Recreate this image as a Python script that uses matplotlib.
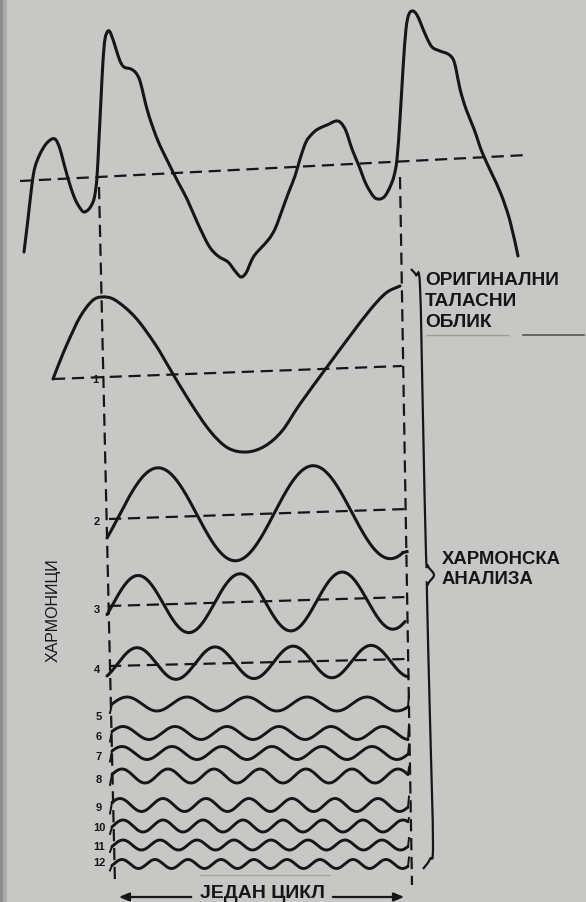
import numpy as np
import matplotlib
matplotlib.use("Agg")
import matplotlib.pyplot as plt
from matplotlib.path import Path
from matplotlib.patches import PathPatch

# original waveform (diagram units: x right, y down)
wave_t = [24, 28, 32, 35, 40, 46, 52, 56, 60, 64, 70, 75, 80, 84, 89, 93, 95, 97, 99, 101,
          103, 105, 108, 111, 116, 120, 124, 131, 136, 140, 144, 149, 158, 168, 178, 187,
          198, 209, 218, 228, 235, 241, 246, 250, 254, 260, 269, 275, 280, 288, 295, 300,
          306, 312, 318, 327, 336, 341, 346, 352, 359, 366, 374, 380, 385, 390, 394, 397,
          400, 403, 406, 409, 413, 417, 421, 426, 432, 440, 448, 453, 456, 460, 466, 474,
          482, 492, 501, 510, 518]
wave_v = [253, 220, 185, 168, 155, 145, 140, 141, 150, 165, 186, 200, 209, 213, 210, 203,
          195, 178, 140, 100, 62, 40, 32, 35, 50, 62, 68, 70, 74, 82, 98, 117, 142, 163,
          183, 200, 225, 247, 257, 263, 272, 278, 274, 265, 257, 250, 240, 230, 217, 195,
          177, 160, 143, 135, 130, 126, 122, 124, 132, 150, 167, 185, 198, 200, 197, 188,
          177, 160, 120, 70, 30, 15, 12, 16, 25, 37, 48, 52, 55, 60, 70, 90, 110, 130,
          153, 175, 195, 222, 257]
mean_x = [20, 527]
mean_y = [182, 156]

# first harmonic (fundamental)
fund_t = [53, 60, 68, 80, 92, 102, 115, 135, 155, 170, 190, 210, 228, 247, 265, 282, 300,
          327, 350, 370, 386, 400]
fund_v = [380, 362, 343, 318, 302, 298, 301, 318, 345, 370, 403, 432, 449, 453, 447, 432,
          405, 368, 337, 311, 294, 287]
fund_base_x = [53, 402]
fund_base_y = [380, 367]

# higher harmonics: amplitude, period and first crest position
harm_label = ['2', '3', '4', '5', '6', '7', '8', '9', '10', '11', '12']
harm_start = [107, 107, 107, 112, 112, 112, 112, 112, 112, 112, 112]
harm_end = [403, 405, 408, 408, 408, 408, 408, 408, 408, 408, 408]
harm_center_l = [516.5, 606, 665, 705, 734, 754, 777, 806, 827, 846, 865]
harm_center_r = [512.5, 601, 662, 705, 734, 754, 777, 806, 827, 846, 865]
harm_amp = [47, 29, 16, 7, 6.5, 6.5, 7, 6.5, 6, 5, 4.5]
harm_period = [155, 102, 78, 60, 52, 50, 46, 43, 40, 37, 33]
harm_crest = [158, 138, 137, 127, 123, 122, 122, 120, 123, 123, 122]
base_l = [520, 607, 667]
base_r = [510, 598, 660]
label_y = [522, 610, 670, 717, 737, 757, 780, 808, 828, 847, 863]

ink = '#161616'
bg = '#c7c7c5'


def smooth(xs, ys):
    pts = np.column_stack([xs, ys]).astype(float)
    verts = [pts[0]]
    codes = [Path.MOVETO]
    n = len(pts)
    for i in range(n - 1):
        p0 = pts[i - 1] if i > 0 else pts[i]
        p1, p2 = pts[i], pts[i + 1]
        p3 = pts[i + 2] if i + 2 < n else pts[i + 1]
        verts += [p1 + (p2 - p0) / 6, p2 - (p3 - p1) / 6, p2]
        codes += [Path.CURVE4] * 3
    return Path(verts, codes)


fig = plt.figure(figsize=(5.86, 9.03), dpi=100, facecolor=bg)
ax = fig.add_axes([0, 0, 1, 1])
ax.set_xlim(0, 586)
ax.set_ylim(903, 0)
ax.axis('off')
ax.set_facecolor(bg)
ax.axvspan(0, 3, color='#8e8e8e', lw=0)
ax.axvspan(3, 7, color='#acacab', lw=0)

lw = 2.2
dash = dict(color=ink, lw=1.6, dashes=(5.5, 3))

# original wave
ax.add_patch(PathPatch(smooth(wave_t, wave_v), fill=False, ec=ink, lw=lw,
                       capstyle='round', joinstyle='round'))
ax.plot(mean_x, mean_y, **dash)

# one-cycle markers
ax.plot([99, 115], [188, 886], **dash)
ax.plot([400, 412], [178, 886], **dash)

# fundamental
ax.add_patch(PathPatch(smooth(fund_t, fund_v), fill=False, ec=ink, lw=lw,
                       capstyle='round', joinstyle='round'))
ax.plot(fund_base_x, fund_base_y, **dash)
ax.text(95, 380, '1', fontsize=8, fontweight='bold', color=ink,
        ha='center', va='center', family='Liberation Sans')

for i, lab in enumerate(harm_label):
    x = np.linspace(harm_start[i], harm_end[i], 600)
    c = np.interp(x, [harm_start[i], harm_end[i]], [harm_center_l[i], harm_center_r[i]])
    y = c - harm_amp[i] * np.cos(2 * np.pi * (x - harm_crest[i]) / harm_period[i])
    ax.plot(x, y, color=ink, lw=lw if i < 3 else 2.1, solid_capstyle='round')
    if i == 0:
        ax.plot([harm_end[i], 407], [y[-1], y[-1] - 1], color=ink, lw=lw)
    if i < 3:
        ax.plot([harm_start[i] + 2, 407], [base_l[i], base_r[i]], **dash)
    else:
        # little end hooks of the small waves
        ax.plot([harm_end[i], harm_end[i] + 1], [y[-1], harm_center_r[i] - harm_amp[i] - 2],
                color=ink, lw=1.4)
        ax.plot([harm_start[i] - 2, harm_start[i]], [harm_center_l[i] + harm_amp[i] + 2, y[0]],
                color=ink, lw=1.4)
    ax.text(97 if i < 3 else 99, label_y[i], lab, fontsize=8, fontweight='bold', color=ink,
            ha='center', va='center', family='Liberation Sans')

# brace on the right
brace_x = [411, 416, 420, 423, 426, 428, 434, 428, 427, 430, 433, 430, 423]
brace_y = [270, 276, 287, 420, 555, 567, 576, 585, 596, 720, 845, 860, 870]
ax.add_patch(PathPatch(smooth(brace_x, brace_y), fill=False, ec=ink, lw=1.6))

font = ['Liberation Sans', 'DejaVu Sans']
for k, s in enumerate(['ОРИГИНАЛНИ', 'ТАЛАСНИ', 'ОБЛИК']):
    ax.text(425, 281 + 21 * k, s, fontsize=13.8, fontweight='bold', color=ink,
            ha='left', va='center', family=font)
ax.plot([427, 508], [336, 336], color='#9a9a98', lw=1.0)
ax.plot([523, 584], [336, 336], color='#555553', lw=1.2)

ax.text(442, 560, 'ХАРМОНСКА', fontsize=13.3, fontweight='bold', color=ink,
        ha='left', va='center', family=font)
ax.text(442, 580, 'АНАЛИЗА', fontsize=13.3, fontweight='bold', color=ink,
        ha='left', va='center', family=font)

ax.text(53, 610, 'ХАРМОНИЦИ', fontsize=11.5, color=ink, rotation=90,
        ha='center', va='center', family=font)

# one cycle arrow
ax.plot([200, 330], [876, 876], color='#a4a4a2', lw=1.0)
arrow_kw = dict(arrowstyle='-|>,head_length=0.6,head_width=0.25', color=ink, lw=1.6)
ax.annotate('', xy=(116, 898), xytext=(194, 898), arrowprops=arrow_kw)
ax.annotate('', xy=(407, 898), xytext=(330, 898), arrowprops=arrow_kw)
ax.text(262, 894, 'ЈЕДАН ЦИКЛ', fontsize=14, fontweight='bold', color=ink,
        ha='center', va='center', family=font)

fig.savefig('out.png', dpi=100, facecolor=bg)
